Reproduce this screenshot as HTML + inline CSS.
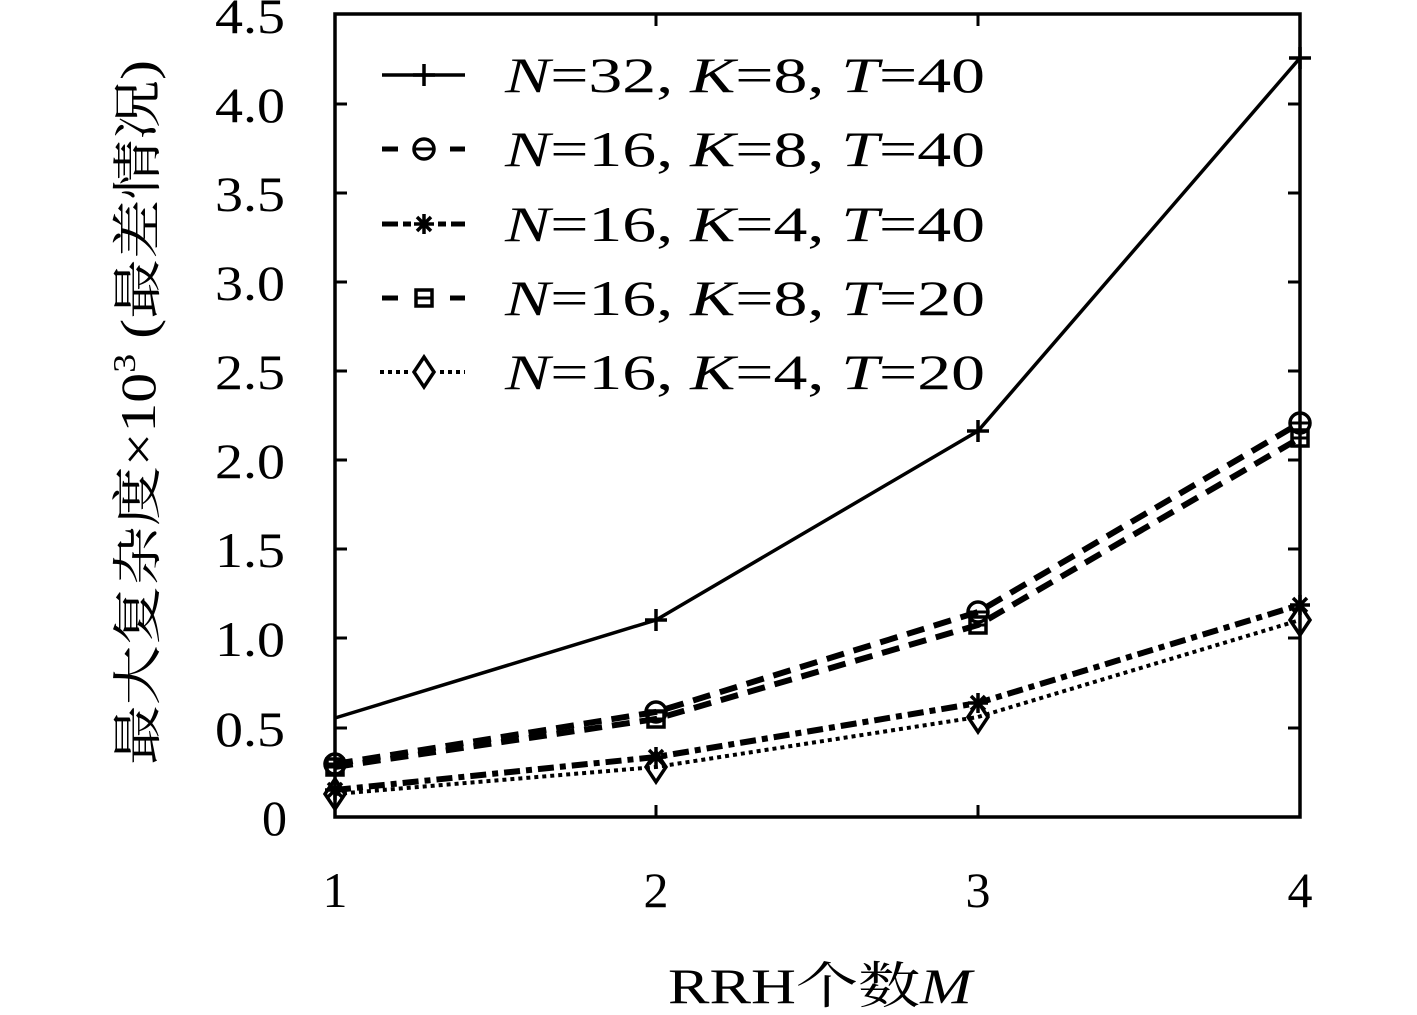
<!DOCTYPE html>
<html><head><meta charset="utf-8"><style>body{margin:0;background:#fff}</style></head><body>
<svg width="1417" height="1010" xmlns="http://www.w3.org/2000/svg" font-family="'Liberation Serif','Noto Serif CJK SC',serif">
<defs>
<g id="plus"><path d="M-11,0H11M0,-11V11" stroke="#000" stroke-width="3.5"/></g>
<g id="circ"><circle r="10" fill="none" stroke="#000" stroke-width="3.5"/><path d="M-10,0H10" stroke="#000" stroke-width="3"/></g>
<g id="sq"><rect x="-8" y="-8" width="16" height="16" fill="none" stroke="#000" stroke-width="3.5"/><path d="M-8,0H8" stroke="#000" stroke-width="3"/></g>
<g id="star"><path d="M-10,0H10M0,-10V10M-7,-7L7,7M-7,7L7,-7" stroke="#000" stroke-width="3.5"/></g>
<g id="dia"><path d="M0,-15L10,0L0,15L-10,0Z" fill="none" stroke="#000" stroke-width="3.5"/></g>
</defs>
<g stroke="#000" fill="none">
<rect x="335" y="14" width="965" height="803" stroke-width="3.5"/>
<path stroke-width="3" d="M335,104h12M335,193h12M335,282h12M335,371h12M335,460h12M335,549h12M335,638h12M335,728h12M1300,104h-12M1300,193h-12M1300,282h-12M1300,371h-12M1300,460h-12M1300,549h-12M1300,638h-12M1300,728h-12M656,817v-12M978,817v-12M656,14v12M978,14v12"/>
<polyline stroke-width="3.5" points="335,718 656,620 978,431 1300,58"/>
<polyline stroke-width="6" stroke-dasharray="18,10" points="335,764 656,712 978,612 1300,423"/>
<polyline stroke-width="6" stroke-dasharray="18,10" points="335,767 656,719 978,625 1300,438"/>
<polyline stroke-width="6" stroke-dasharray="16,6,6,6" points="335,790 656,757 978,703 1300,605"/>
<polyline stroke-width="4" stroke-dasharray="4,4" points="335,794 656,767 978,717 1300,620"/>
<path stroke-width="3.5" d="M382,75h83"/>
<path stroke-width="5" d="M382,149h16M450,149h15M382,298h16M450,298h15"/>
<path stroke-width="5" d="M382,224h16M403,224h8M438,224h8M451,224h14"/>
<path stroke-width="4" stroke-dasharray="4,4" d="M380,372h30M440,372h25"/>
</g>
<use href="#plus" x="656" y="620"/><use href="#plus" x="978" y="431"/><use href="#plus" x="1300" y="58"/><use href="#plus" x="424" y="75"/>
<use href="#circ" x="335" y="764"/><use href="#circ" x="656" y="712"/><use href="#circ" x="978" y="612"/><use href="#circ" x="1300" y="423"/><use href="#circ" x="424" y="149"/>
<use href="#sq" x="335" y="767"/><use href="#sq" x="656" y="719"/><use href="#sq" x="978" y="625"/><use href="#sq" x="1300" y="438"/><use href="#sq" x="424" y="298"/>
<use href="#star" x="335" y="790"/><use href="#star" x="656" y="757"/><use href="#star" x="978" y="703"/><use href="#star" x="1300" y="605"/><use href="#star" x="424" y="224"/>
<use href="#dia" x="335" y="794"/><use href="#dia" x="656" y="767"/><use href="#dia" x="978" y="717"/><use href="#dia" x="1300" y="620"/><use href="#dia" x="424" y="372"/>
<g font-size="50">
<text x="215" y="33" textLength="70" lengthAdjust="spacingAndGlyphs">4.5</text><text x="215" y="122" textLength="70" lengthAdjust="spacingAndGlyphs">4.0</text><text x="215" y="211" textLength="70" lengthAdjust="spacingAndGlyphs">3.5</text><text x="215" y="300" textLength="70" lengthAdjust="spacingAndGlyphs">3.0</text><text x="215" y="389" textLength="70" lengthAdjust="spacingAndGlyphs">2.5</text><text x="215" y="478" textLength="70" lengthAdjust="spacingAndGlyphs">2.0</text><text x="215" y="567" textLength="70" lengthAdjust="spacingAndGlyphs">1.5</text><text x="215" y="656" textLength="70" lengthAdjust="spacingAndGlyphs">1.0</text><text x="215" y="746" textLength="70" lengthAdjust="spacingAndGlyphs">0.5</text><text x="262" y="835">0</text>
</g>
<g font-size="50" text-anchor="middle">
<text x="335" y="907">1</text><text x="656" y="907">2</text><text x="978" y="907">3</text><text x="1300" y="907">4</text>
</g>
<text x="668" y="1003" font-size="50" textLength="304" lengthAdjust="spacingAndGlyphs">RRH个数<tspan font-style="italic">M</tspan></text>
<text transform="translate(155,765) rotate(-90)" font-size="50" textLength="705" lengthAdjust="spacingAndGlyphs">最大复杂度×10<tspan font-size="32" dy="-20">3</tspan><tspan dy="20"> (最差情况)</tspan></text>
<g font-size="50">
<text x="505" y="92" textLength="480" lengthAdjust="spacingAndGlyphs"><tspan font-style="italic">N</tspan>=32, <tspan font-style="italic">K</tspan>=8, <tspan font-style="italic">T</tspan>=40</text>
<text x="505" y="166" textLength="480" lengthAdjust="spacingAndGlyphs"><tspan font-style="italic">N</tspan>=16, <tspan font-style="italic">K</tspan>=8, <tspan font-style="italic">T</tspan>=40</text>
<text x="505" y="241" textLength="480" lengthAdjust="spacingAndGlyphs"><tspan font-style="italic">N</tspan>=16, <tspan font-style="italic">K</tspan>=4, <tspan font-style="italic">T</tspan>=40</text>
<text x="505" y="315" textLength="480" lengthAdjust="spacingAndGlyphs"><tspan font-style="italic">N</tspan>=16, <tspan font-style="italic">K</tspan>=8, <tspan font-style="italic">T</tspan>=20</text>
<text x="505" y="389" textLength="480" lengthAdjust="spacingAndGlyphs"><tspan font-style="italic">N</tspan>=16, <tspan font-style="italic">K</tspan>=4, <tspan font-style="italic">T</tspan>=20</text>
</g>
</svg>
</body></html>
